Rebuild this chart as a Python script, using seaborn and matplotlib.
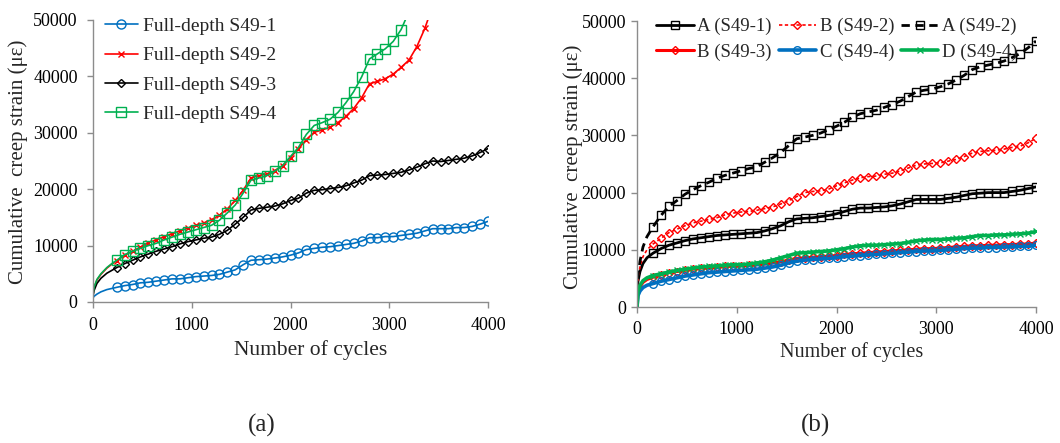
import numpy as np
import pandas as pd
import matplotlib
matplotlib.use("Agg")
import matplotlib.pyplot as plt
import seaborn as sns

# ---------------- data: panel (a) ----------------
early_a = [0, 10, 40, 80, 140, 190]
mark_a = list(range(240, 4001, 80))
cycles_a = early_a + mark_a

s49_1 = [700, 1000, 1400, 1800, 2200, 2400,
         2600, 2900, 3100, 3400, 3500, 3700, 3900, 4100, 4100, 4300, 4500, 4600, 4700, 4900,
         5300, 5700, 6600, 7400, 7500, 7600, 7800, 8000, 8300, 8700, 9300, 9500, 9700, 9800,
         10000, 10200, 10400, 10800, 11400, 11400, 11600, 11600, 11800, 12000, 12200, 12600,
         13000, 13000, 13000, 13200, 13200, 13400, 13800, 14300]
s49_3 = [1000, 2000, 3300, 4200, 5100, 5600,
         6100, 6800, 7400, 8000, 8500, 9000, 9400, 9800, 10300, 10700, 11000, 11300, 11500, 12000,
         12700, 13800, 15000, 16300, 16600, 16800, 17000, 17400, 18000, 18400, 19300, 19800,
         19900, 20100, 20300, 20600, 21100, 21600, 22400, 22500, 22600, 22800, 23000, 23400,
         23900, 24500, 25000, 24900, 25100, 25300, 25500, 25900, 26500, 27200]
s49_2 = [1200, 2500, 3900, 4900, 6000, 6700,
         7300, 8300, 9000, 9700, 10500, 11000, 11600, 12100, 12600, 13100, 13600, 14000, 14600,
         15400, 16500, 18000, 19800, 22000, 22400, 22700, 23300, 24200, 25600, 27200, 28800,
         30100, 30500, 31000, 31800, 32900, 34300, 36200, 38700, 39100, 39600, 40400, 41600,
         42900, 45300, 48500, 52500]
s49_4 = [1200, 2600, 4000, 5000, 6100, 6800,
         7400, 8400, 9000, 9500, 10000, 10400, 11000, 11500, 12000, 12400, 12800, 13200, 13600,
         14500, 15800, 17200, 19300, 21600, 22000, 22400, 23200, 24200, 25800, 27400, 29700,
         31300, 31800, 32400, 33600, 35300, 37300, 39900, 43100, 44000, 44900, 46200, 48300, 51500]

labels_a = ["Full-depth S49-1", "Full-depth S49-2", "Full-depth S49-3", "Full-depth S49-4"]

# ---------------- data: panel (b) ----------------
early_b = [0, 10, 30, 60, 100]
mark_b = list(range(160, 4001, 80))
cycles_b = early_b + mark_b

a_s49_1 = [2500, 4500, 6200, 7600, 8600,
           9400, 10200, 10800, 11200, 11600, 11900, 12100, 12300, 12500, 12600, 12700, 12800,
           12900, 13000, 13300, 13700, 14200, 14900, 15400, 15500, 15600, 15800, 16000, 16300,
           16700, 17100, 17300, 17300, 17400, 17500, 17700, 18000, 18400, 18800, 18800, 18800,
           18800, 19000, 19200, 19500, 19800, 19900, 20000, 20000, 20000, 20200, 20400, 20700, 21000]
b_s49_2 = [2500, 5000, 7000, 8800, 10000,
           11000, 12000, 13000, 13600, 14200, 14700, 15000, 15300, 15600, 16100, 16400, 16600,
           16700, 16900, 17200, 17500, 18000, 18600, 19300, 20000, 20200, 20300, 20600, 21200,
           21700, 22200, 22600, 22800, 22900, 23200, 23400, 23800, 24300, 24800, 25000, 25100,
           25200, 25500, 25800, 26300, 26900, 27200, 27300, 27400, 27600, 27900, 28100, 28700, 29500]
a_s49_2 = [2500, 5500, 8000, 10500, 12300,
           14000, 16000, 17600, 18600, 19700, 20500, 21200, 21800, 22500, 23000, 23400, 23800,
           24200, 24500, 25300, 26100, 27000, 28200, 29400, 29700, 30000, 30400, 31000, 31600,
           32300, 33200, 33800, 34100, 34400, 34900, 35400, 36000, 36800, 37600, 37900, 38100,
           38500, 39000, 39700, 40500, 41500, 42000, 42300, 42600, 43000, 43600, 44300, 45300, 46500]
b_s49_3 = [0, 2500, 3500, 4300, 4800,
           5200, 5600, 6000, 6200, 6400, 6600, 6800, 6900, 7000, 7100, 7200, 7200, 7300, 7400,
           7500, 7700, 7900, 8200, 8500, 8600, 8700, 8800, 8900, 9000, 9200, 9300, 9400, 9500,
           9600, 9700, 9800, 9900, 10000, 10100, 10200, 10200, 10300, 10400, 10500, 10600, 10700,
           10700, 10800, 10800, 10900, 10900, 11000, 11000, 11200]
c_s49_4 = [0, 2000, 2800, 3400, 3800,
           4100, 4500, 4800, 5100, 5400, 5600, 5800, 6000, 6100, 6200, 6300, 6400, 6500, 6600,
           6800, 7000, 7300, 7700, 8000, 8200, 8300, 8400, 8500, 8600, 8800, 8900, 9000, 9100,
           9200, 9300, 9400, 9500, 9600, 9700, 9800, 9800, 9900, 10000, 10100, 10200, 10300,
           10300, 10400, 10400, 10500, 10500, 10600, 10600, 10800]
d_s49_4 = [0, 2800, 3800, 4600, 5100,
           5500, 5800, 6100, 6400, 6600, 6800, 7000, 7100, 7200, 7300, 7400, 7400, 7500, 7700,
           7900, 8200, 8600, 9000, 9400, 9500, 9600, 9700, 9800, 10000, 10200, 10500, 10700,
           10800, 10800, 10900, 11000, 11100, 11300, 11600, 11700, 11800, 11800, 11900, 12000,
           12100, 12300, 12500, 12500, 12600, 12600, 12700, 12800, 12900, 13200]

labels_b = ["A (S49-1)", "B (S49-2)", "A (S49-2)", "B (S49-3)", "C (S49-4)", "D (S49-4)"]

yticks = [0, 10000, 20000, 30000, 40000, 50000]
xticks = [0, 1000, 2000, 3000, 4000]

# ---------------- styling ----------------
sns.set_theme(style="white")
plt.rcParams['font.family'] = ['Liberation Serif', 'DejaVu Serif']

BLUE = "#0070C0"
RED = "#FF0000"
GREEN = "#00B050"
BLACK = "#000000"
SPINE = "#8c8c8c"

fig = plt.figure(figsize=(10.6, 4.43), dpi=100)
axA = fig.add_axes([93 / 1060, 1 - 302 / 443, 395 / 1060, 282 / 443])
axB = fig.add_axes([637 / 1060, 1 - 307 / 443, 399 / 1060, 286 / 443])


def draw(ax, x, y, color, marker, label, n_early, lw=1.0, ms=6, ls='-', mew=1.0):
    n = min(len(x), len(y))
    df = pd.DataFrame({"x": x[:n], "y": y[:n]})
    sns.lineplot(data=df, x="x", y="y", ax=ax, color=color, marker=marker,
                 markevery=list(range(n_early, n)), markersize=ms,
                 markerfacecolor='none', markeredgecolor=color, markeredgewidth=mew,
                 linewidth=lw, linestyle=ls, label=label, sort=False, estimator=None)


# panel (a)
draw(axA, cycles_a, s49_1, BLUE, 'o', labels_a[0], len(early_a), lw=1.2, ms=6.5)
draw(axA, cycles_a, s49_2, RED, 'x', labels_a[1], len(early_a), lw=1.2, ms=4.5)
draw(axA, cycles_a, s49_3, BLACK, 'D', labels_a[2], len(early_a), lw=1.2, ms=4.2)
draw(axA, cycles_a, s49_4, GREEN, 's', labels_a[3], len(early_a), lw=1.2, ms=7)

# panel (b)
draw(axB, cycles_b, a_s49_1, BLACK, 's', labels_b[0], len(early_b), lw=2.0, ms=6)
draw(axB, cycles_b, b_s49_2, RED, 'D', labels_b[1], len(early_b), lw=1.2, ms=4.5, ls=(0, (2, 1.5)))
draw(axB, cycles_b, a_s49_2, BLACK, 's', labels_b[2], len(early_b), lw=2.0, ms=6, ls=(0, (3, 2)))
draw(axB, cycles_b, b_s49_3, RED, 'D', labels_b[3], len(early_b), lw=2.2, ms=4.5)
draw(axB, cycles_b, c_s49_4, BLUE, 'o', labels_b[4], len(early_b), lw=2.6, ms=5.5)
draw(axB, cycles_b, d_s49_4, GREEN, 'x', labels_b[5], len(early_b), lw=2.6, ms=5)

for ax in (axA, axB):
    ax.set_xlim(0, 4000)
    ax.set_ylim(0, 50000)
    ax.set_xticks(xticks)
    ax.set_yticks(yticks)
    ax.set_xticklabels([str(v) for v in xticks])
    ax.set_yticklabels([str(v) for v in yticks])
    sns.despine(ax=ax)
    for sp in ("left", "bottom"):
        ax.spines[sp].set_color(SPINE)
        ax.spines[sp].set_linewidth(1.0)
    ax.tick_params(axis='both', which='major', direction='out', length=4, width=1,
                   color=SPINE, labelsize=13, labelcolor='black',
                   left=True, bottom=True)
    ax.set_xlabel("Number of cycles", fontsize=15.5)
    ax.set_ylabel("Cumulative  creep strain (\u03bc\u03b5)", fontsize=15)

axA.tick_params(axis='y', pad=7)
axA.tick_params(axis='x', pad=7)
axB.tick_params(axis='y', pad=4)
axB.tick_params(axis='x', pad=6)
axB.xaxis.label.set_fontsize(14.5)

axA.xaxis.set_label_coords(0.552, -0.135)
axB.xaxis.set_label_coords(0.539, -0.122)
axA.yaxis.set_label_coords(-0.165, 0.496)
axB.yaxis.set_label_coords(-0.135, 0.49)

legA = axA.legend(loc='upper left', bbox_to_anchor=(0.0, 1.05), frameon=False,
                  fontsize=14, handlelength=1.7, handletextpad=0.25, labelspacing=0.6,
                  borderaxespad=0.2)

hB, lB = axB.get_legend_handles_labels()
order = [0, 3, 1, 4, 2, 5]   # row-wise layout for 3 columns
legB = axB.legend([hB[i] for i in order], [lB[i] for i in order],
                  loc='upper left', bbox_to_anchor=(0.02, 1.05), frameon=False,
                  fontsize=13.5, ncol=3, handlelength=2.0, handletextpad=0.2,
                  columnspacing=0.35, labelspacing=0.45, borderaxespad=0.2)

fig.text(262 / 1060, 1 - 425 / 443, "(a)", fontsize=18, ha='center', va='center')
fig.text(815 / 1060, 1 - 425 / 443, "(b)", fontsize=18, ha='center', va='center')

fig.savefig("out.png", dpi=100, facecolor='white')
